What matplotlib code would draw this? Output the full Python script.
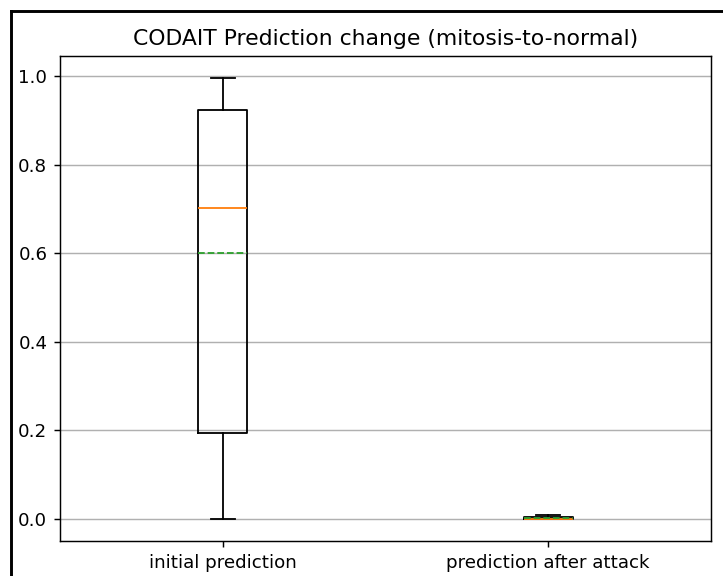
import matplotlib
matplotlib.use("Agg")
import matplotlib.pyplot as plt
from matplotlib.lines import Line2D

# Box statistics
labels = ["initial prediction", "prediction after attack"]
whislo = [0.0, 0.0]
q1 = [0.194, 0.0]
medians = [0.702, 0.0005]
means = [0.600, 0.002]
q3 = [0.923, 0.004]
whishi = [0.996, 0.009]

stats = []
for i in range(len(labels)):
    stats.append({
        "label": labels[i],
        "whislo": whislo[i],
        "q1": q1[i],
        "med": medians[i],
        "mean": means[i],
        "q3": q3[i],
        "whishi": whishi[i],
        "fliers": [],
    })

dpi = 131
W, H = 723, 576
fig = plt.figure(figsize=(W / dpi, H / dpi), dpi=dpi)
ax = fig.add_axes([60 / W, 1 - 541 / H, (711 - 60) / W, (541 - 56) / H])

ax.bxp(stats, showmeans=True, meanline=True)
ax.yaxis.grid(True)
ax.set_title("CODAIT Prediction change (mitosis-to-normal)")

# frame lines from the screenshot crop
fig.add_artist(Line2D([11 / W, 1.0], [1 - 11 / H, 1 - 11 / H], color="black", lw=1.6,
                      transform=fig.transFigure))
fig.add_artist(Line2D([11 / W, 11 / W], [0.0, 1 - 11 / H], color="black", lw=1.6,
                      transform=fig.transFigure))

fig.savefig("out.png", dpi=dpi)
